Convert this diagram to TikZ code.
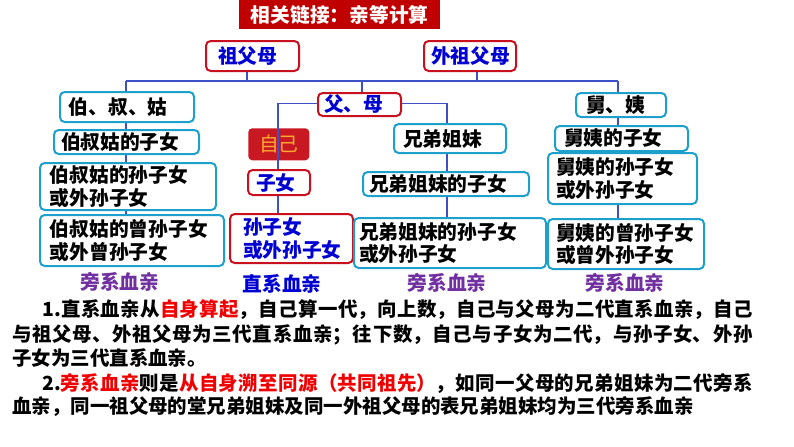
\documentclass[tikz,border=0pt]{standalone}
\usepackage{fontspec}
\setmainfont{Noto Sans CJK SC}
\usetikzlibrary{backgrounds}
\definecolor{titlered}{RGB}{192,0,0}
\definecolor{boxred}{RGB}{200,16,30}
\definecolor{txtblue}{RGB}{0,0,210}
\definecolor{boxcyan}{RGB}{30,160,205}
\definecolor{linkblue}{RGB}{60,80,200}
\definecolor{selfred}{RGB}{200,24,34}
\definecolor{selftxt}{RGB}{255,170,50}
\definecolor{lblpurple}{RGB}{112,48,160}
\definecolor{hlred}{RGB}{240,0,0}
\newcommand\bx[8][]{%
  \node[#1, anchor=north west, inner xsep={#7*0.75pt}, inner ysep=0pt,
        text width={(#5-#3-2*#7)*0.75pt}, minimum height={(#6-#4)*0.75pt},
        align=left] (#2) at (#3,#4) {#8};}
\newcommand\jline[1]{\XeTeXlinebreaklocale "zh"\XeTeXlinebreakskip=0pt plus 1fil\parfillskip=0pt #1}
\tikzset{
  basebox/.style={font={\fontsize{14.8pt}{17pt}\selectfont\bfseries}, rounded corners=3.5pt, line width=1.5pt, fill=white},
  redbox/.style={basebox, draw=boxred, text=txtblue},
  cyanbox/.style={basebox, draw=boxcyan, text=black},
  conn/.style={draw=linkblue, line width=1.2pt},
  lbl/.style={font={\fontsize{14.8pt}{17pt}\selectfont\bfseries}, inner sep=0pt},
  para/.style={font={\fontsize{14.6pt}{18pt}\selectfont\bfseries}, inner sep=0pt, anchor=west},
}
\begin{document}
\begin{tikzpicture}[x=0.75pt,y=-0.75pt]
\useasboundingbox (0,0) rectangle (794,447);
% title
\node[fill=titlered, text=white, font={\fontsize{14.8pt}{17pt}\selectfont\bfseries},
      anchor=north west, minimum width=201*0.75pt, minimum height=29*0.75pt, inner sep=0pt]
      (title) at (239,0) {相关链接：亲等计算};
% top
\bx[redbox]{zfm}{205}{40}{298}{70}{12}{祖父母}
\bx[redbox]{wzfm}{423}{40}{515}{70}{7}{外祖父母}
\bx[redbox]{fm}{317}{92}{400}{115}{6}{父、母}
% middle (direct)
\bx[redbox]{zn}{247}{169}{309}{194}{8}{子女}
\bx[redbox]{szn}{229}{213}{352}{262}{13}{孙子女\\或外孙子女}
% siblings
\bx[cyanbox]{xd}{393}{123}{505}{152}{9}{兄弟姐妹}
\bx[cyanbox]{xdz}{362}{171}{528}{195}{6}{兄弟姐妹的子女}
\bx[cyanbox]{xds}{353}{217}{545}{267}{5}{兄弟姐妹的孙子女\\或外孙子女}
% left column
\bx[cyanbox]{bsg}{59}{91}{193}{121}{9}{伯、叔、姑}
\bx[cyanbox]{bsgz}{53}{129}{198}{153}{7}{伯叔姑的子女}
\bx[cyanbox]{bsgs}{39}{162}{215}{209}{10}{伯叔姑的孙子女\\或外孙子女}
\bx[cyanbox]{bsgc}{39}{214}{223}{265}{10}{伯叔姑的曾孙子女\\或外曾孙子女}
% right column
\bx[cyanbox]{jy}{575}{92}{665}{116}{10}{舅、姨}
\bx[cyanbox]{jyz}{554}{125}{687}{150}{9}{舅姨的子女}
\bx[cyanbox]{jys}{547}{152}{696}{203}{8}{舅姨的孙子女\\或外孙子女}
\bx[cyanbox]{jyc}{547}{218}{703}{268}{8}{舅姨的曾孙子女\\或曾外孙子女}
% coordinates for connectors
\coordinate (hl) at (126,81);
\coordinate (hr) at (618,81);
\coordinate (zfmd) at (247,81);
\coordinate (wzfmd) at (477,81);
\coordinate (hm) at (362,81);
\coordinate (ml) at (278,103.5);
\coordinate (mr) at (447,103.5);
\begin{pgfonlayer}{background}
  \node[fill=selfred, rounded corners=3pt, anchor=north west, minimum width=61*0.75pt,
        minimum height=32*0.75pt, inner sep=0pt, text=selftxt,
        font={\fontsize{14.8pt}{17pt}\selectfont}] (zj) at (248,128) {自己};
  \draw[conn] (hl) -- (hr);
  \draw[conn] (zfm.south -| zfmd) -- (zfmd);
  \draw[conn] (wzfm.south -| wzfmd) -- (wzfmd);
  \draw[conn] (hm) -- (hm |- fm.north);
  \draw[conn] (hl) -- (hl |- bsgc.north);
  \draw[conn] (hr) -- (hr |- jyc.north);
  \draw[conn] (fm.west |- ml) -- (ml) -- (ml |- szn.north);
  \draw[conn] (fm.east |- mr) -- (mr) -- (mr |- xds.north);
\end{pgfonlayer}
% category labels
\node[lbl, text=lblpurple] (l1) at (120,282) {旁系血亲};
\node[lbl, text=txtblue] (l2) at (282,284) {直系血亲};
\node[lbl, text=lblpurple] (l3) at (447,283) {旁系血亲};
\node[lbl, text=lblpurple] (l4) at (625,283) {旁系血亲};
% paragraph
\node[para, text width=711*0.75pt, align=justify] (p1) at (42,310)
  {\jline{1.直系血亲从{\color{hlred}自身算起}，自己算一代，向上数，自己与父母为二代直系血亲，自己}};
\node[para, text width=741*0.75pt, align=justify] (p2) at (12,335)
  {\jline{与祖父母、外祖父母为三代直系血亲；往下数，自己与子女为二代，与孙子女、外孙}};
\node[para] (p3) at (12,358) {子女为三代直系血亲。};
\node[para, text width=711*0.75pt, align=justify] (p4) at (42,384)
  {\jline{2.{\color{hlred}旁系血亲}则是{\color{hlred}从自身溯至同源（共同祖先）}，如同一父母的兄弟姐妹为二代旁系}};
\node[para] (p5) at (12,407) {血亲，同一祖父母的堂兄弟姐妹及同一外祖父母的表兄弟姐妹均为三代旁系血亲};
\end{tikzpicture}
\end{document}
